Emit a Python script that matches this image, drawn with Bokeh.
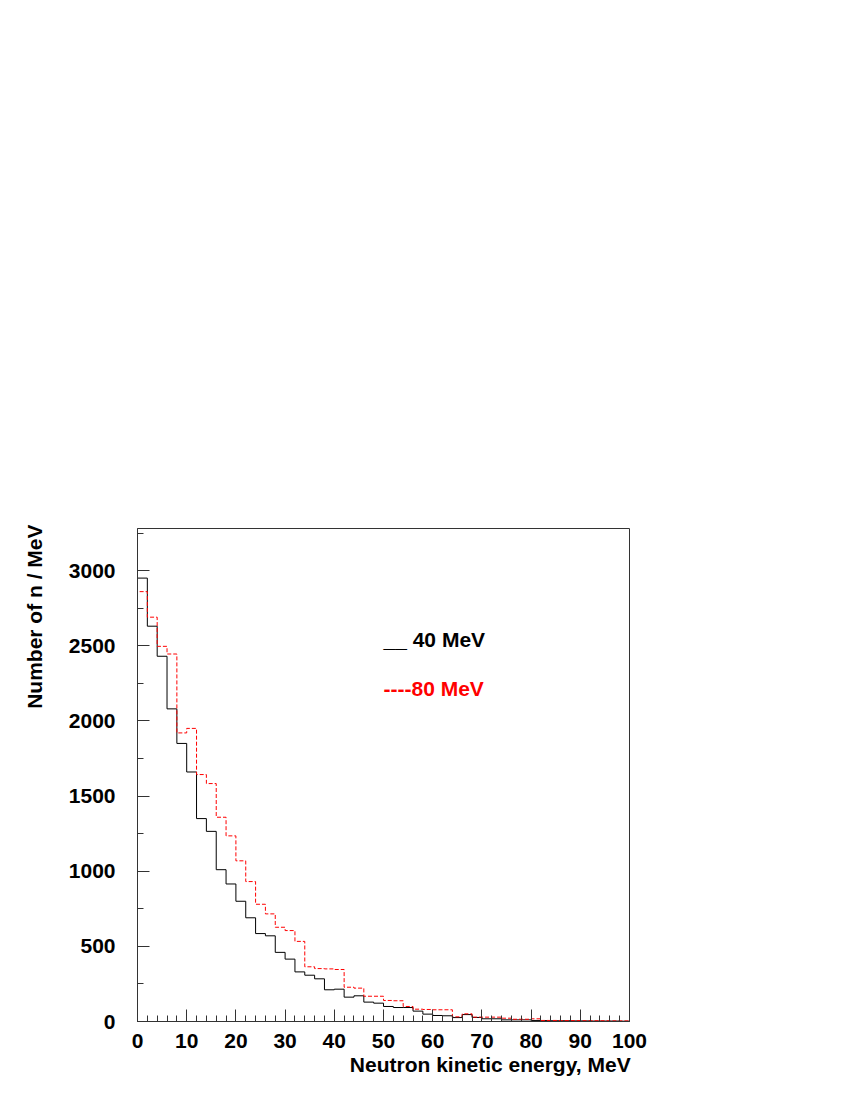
import numpy as np
from bokeh.plotting import figure
from bokeh.models import FixedTicker, Label, Range1d, Title
from bokeh.embed import file_html
from bokeh.resources import INLINE

# Histogram bins: 2 MeV wide from 0 to 100 MeV
bin_edges = list(range(0, 102, 2))

counts_40MeV = [2950, 2630, 2430, 2080, 1850, 1660, 1350, 1265, 1010, 915,
                800, 690, 585, 570, 460, 415, 330, 308, 284, 211,
                215, 162, 171, 129, 122, 100, 93, 93, 69, 49,
                40, 38, 26, 46, 27, 18, 18, 11, 11, 11,
                7, 6, 5, 5, 4, 4, 3, 3, 3, 2]

counts_80MeV = [2860, 2690, 2496, 2445, 1920, 1950, 1643, 1583, 1359, 1235,
                1069, 931, 780, 716, 627, 605, 533, 364, 352, 350,
                346, 228, 222, 168, 168, 140, 138, 100, 82, 80,
                78, 78, 31, 51, 29, 29, 29, 22, 15, 15,
                18, 7, 7, 6, 6, 5, 5, 5, 4, 4]

x_major = [0, 10, 20, 30, 40, 50, 60, 70, 80, 90, 100]
x_minor = list(range(0, 102, 2))
y_major = [0, 500, 1000, 1500, 2000, 2500, 3000]
y_minor = list(range(0, 3500, 250))

legend_texts = ["__ 40 MeV", "----80 MeV"]
x_title = "Neutron kinetic  energy, MeV"
y_title = "Number of n / MeV"

FONT = "Liberation Sans"
FS = "21px"


def step_coords(edges, vals):
    e = np.asarray(edges, dtype=float)
    v = np.asarray(vals, dtype=float)
    xs = np.repeat(e, 2)
    ys = np.concatenate([[0.0], np.repeat(v, 2), [0.0]])
    return xs, ys


p = figure(width=657, height=1095,
           x_range=Range1d(0, 100), y_range=Range1d(0, 3280),
           output_backend="svg", toolbar_location=None,
           min_border_left=137, min_border_right=28,
           min_border_top=528, min_border_bottom=74)

p.grid.visible = False
p.outline_line_color = "#333333"
p.outline_line_width = 1
p.background_fill_color = "white"
p.border_fill_color = "white"

xs, ys = step_coords(bin_edges, counts_40MeV)
p.line(xs, ys, line_color="black", line_width=1)
xs2, ys2 = step_coords(bin_edges, counts_80MeV)
p.line(xs2, ys2, line_color="red", line_width=1, line_dash="4 2")

for ax in (p.xaxis[0], p.yaxis[0]):
    ax.axis_line_color = "#333333"
    ax.major_tick_line_color = "#333333"
    ax.minor_tick_line_color = "#333333"
    ax.major_tick_out = 0
    ax.minor_tick_out = 0
    ax.major_tick_in = 12
    ax.minor_tick_in = 6
    ax.major_label_text_font = FONT
    ax.major_label_text_font_style = "bold"
    ax.major_label_text_font_size = FS
    ax.major_label_text_color = "black"

p.xaxis[0].ticker = FixedTicker(ticks=x_major, minor_ticks=x_minor)
p.yaxis[0].ticker = FixedTicker(ticks=y_major, minor_ticks=y_minor)
p.xaxis[0].major_label_standoff = 12
p.yaxis[0].major_label_standoff = 22

# Axis titles
p.add_layout(Title(text=x_title, align="right", text_font=FONT,
                   text_font_style="bold", text_font_size=FS,
                   text_color="black", standoff=0, offset=-7), "below")
p.add_layout(Title(text=y_title, align="right", text_font=FONT,
                   text_font_style="bold", text_font_size=FS,
                   text_color="black", standoff=39, offset=-4), "left")

# Legend texts
p.add_layout(Label(x=50, y=2540, text=legend_texts[0],
                   text_align="left", text_baseline="alphabetic",
                   text_font=FONT, text_font_style="bold",
                   text_font_size=FS, text_color="black"))
p.add_layout(Label(x=50, y=2215, text=legend_texts[1],
                   text_align="left", text_baseline="alphabetic",
                   text_font=FONT, text_font_style="bold",
                   text_font_size=FS, text_color="red"))

open("out.html", "w").write(file_html(p, INLINE))
